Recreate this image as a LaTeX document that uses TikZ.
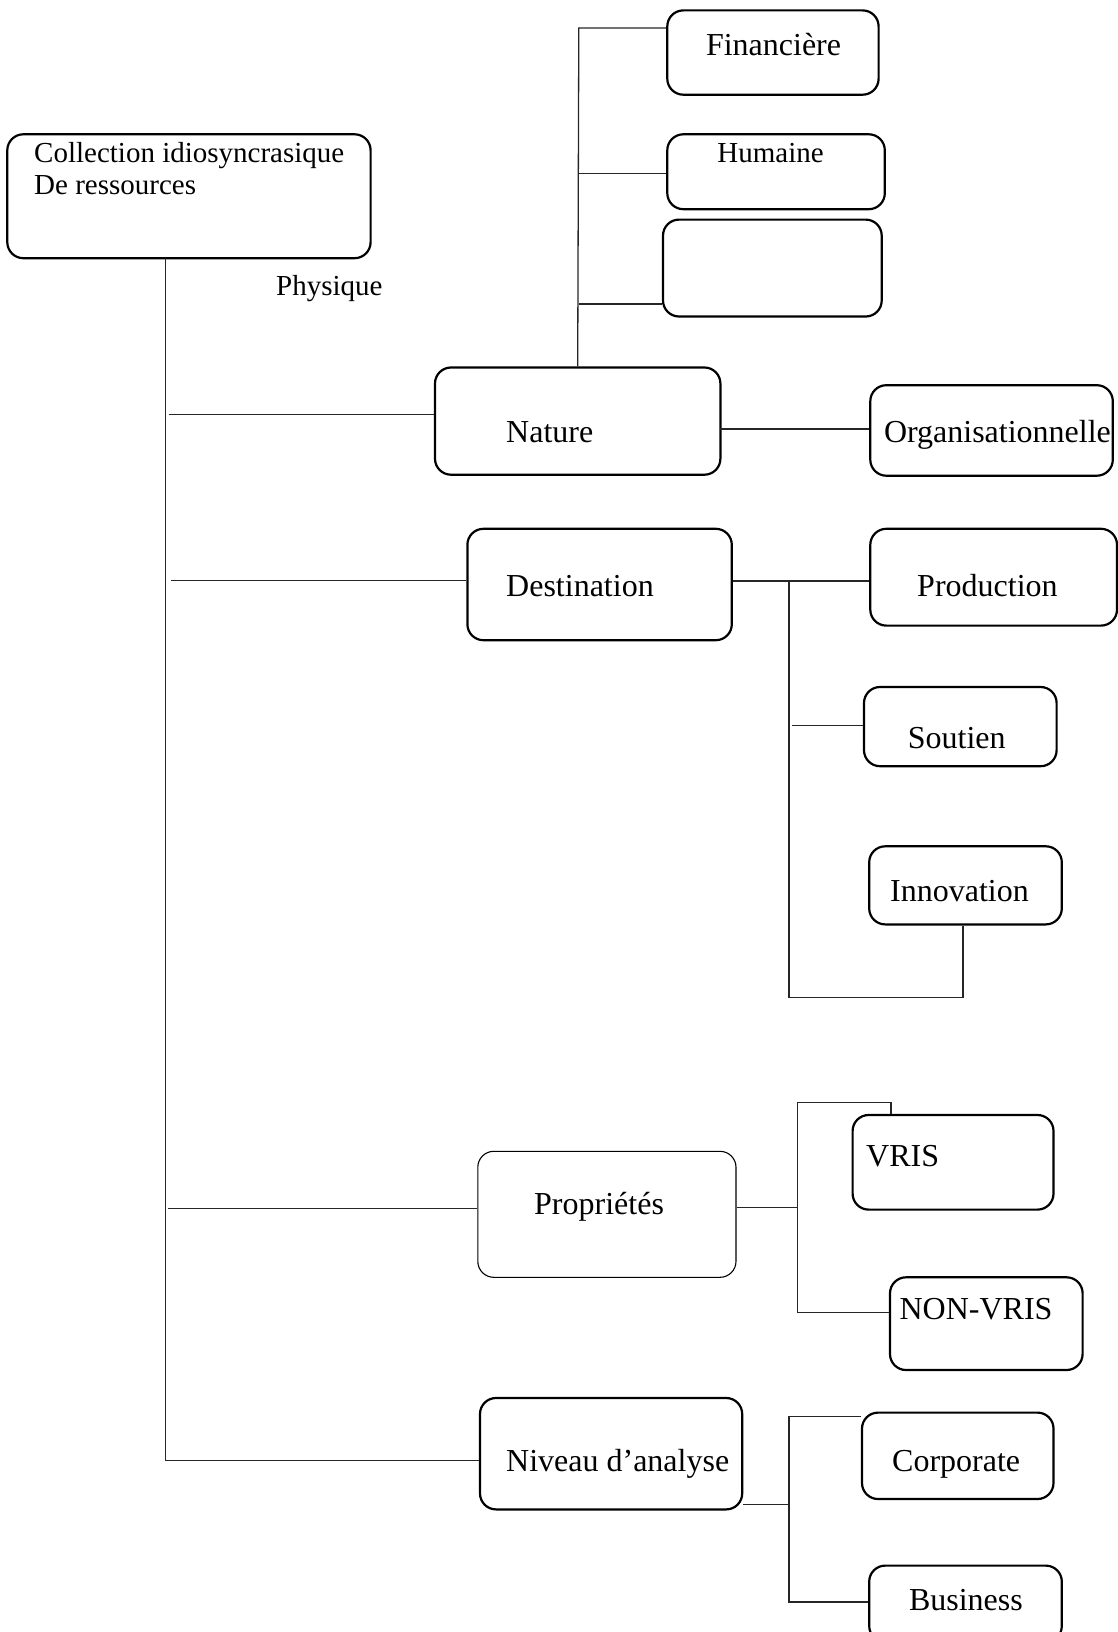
\documentclass[tikz,border=0pt]{standalone}
\usepackage{fontspec}
\setmainfont{Liberation Serif}
% box from corner (x1,y1) to corner (x2,y2), named #6
\newcommand\mkbox[6][box]{\node[#1, minimum width={#4-#2}, minimum height={#5-#3}] (#6) at ({(#2+#4)/2},{(#3+#5)/2}) {};}
\begin{document}
\begin{tikzpicture}[x=1pt,y=-1pt,
  box/.style={draw, line width=2.2pt, rounded corners=16pt, inner sep=0pt, rectangle},
  thinbox/.style={box, line width=1.1pt},
  lbl/.style={anchor=base west, inner sep=0pt, font=\fontsize{32}{38}\selectfont},
  slbl/.style={anchor=base west, inner sep=0pt, font=\fontsize{29}{31}\selectfont},
  link/.style={line width=1.3pt, draw=black!85}]
\useasboundingbox (0,0) rectangle (1118,1632);

% boxes
\mkbox{7.3}{134.3}{370.6}{258.2}{coll}
\mkbox{667.3}{10.4}{878.6}{94.7}{fin}
\mkbox{667.3}{134.3}{884.8}{209.2}{hum}
\mkbox{663}{219.6}{881.7}{316.5}{emp}
\mkbox{435}{367.5}{720.4}{474.7}{nat}
\mkbox{870.3}{385.2}{1112.8}{475.7}{org}
\mkbox{467.4}{528.8}{731.8}{640.2}{dst}
\mkbox{870.3}{528.8}{1117}{625.6}{prd}
\mkbox{864}{687}{1056.6}{766.2}{sou}
\mkbox{869.2}{846.3}{1061.8}{924.4}{inn}
\mkbox[thinbox]{477.8}{1151.3}{736}{1277.3}{pro}
\mkbox{852.6}{1115}{1053.5}{1209.6}{vris}
\mkbox{890}{1277.3}{1082.6}{1370}{nvr}
\mkbox{480}{1398}{742.2}{1509.4}{niv}
\mkbox{862}{1412.6}{1053.5}{1499}{cor}
\mkbox{869.2}{1565.6}{1061.8}{1642}{bus}

% labels
\node[slbl] (collA) at (34,162.7) {Collection idiosyncrasique};
\node[slbl] (collB) at (34,194) {De ressources};
\node[slbl] (phy) at (276,295) {Physique};
\node[lbl] (finT) at (705.8,55.5) {Financière};
\node[slbl] (humT) at (717.2,162.3) {Humaine};
\node[lbl] (natT) at (506,442.7) {Nature};
\node[lbl] (orgT) at (883.8,442.7) {Organisationnelle};
\node[lbl] (dstT) at (506,596) {Destination};
\node[lbl] (prdT) at (917,596) {Production};
\node[lbl] (souT) at (907.7,748) {Soutien};
\node[lbl] (innT) at (890,901.7) {Innovation};
\node[lbl] (proT) at (534,1214) {Propriétés};
\node[lbl] (vrisT) at (866,1166) {VRIS};
\node[lbl] (nvrT) at (899.4,1319) {NON-VRIS};
\node[lbl] (nivT) at (506,1471.7) {Niveau d’analyse};
\node[lbl] (corT) at (892,1471.7) {Corporate};
\node[lbl] (busT) at (908.8,1610) {Business};

% junction points of the connector lines
\coordinate (trTop) at (165.5,258.2);
\coordinate (trBot) at (165.5,1460.5);
\coordinate (trNat) at (168.6,414.3);
\coordinate (trDst) at (170.7,580.5);
\coordinate (trPro) at (167.6,1208.6);
\coordinate (nbTop) at (578.8,28.1);
\coordinate (nbHum) at (578.8,173.8);
\coordinate (nbEmp) at (578.8,304);
\coordinate (natOrg) at (720.4,428.9);
\coordinate (dsTop) at (789,580.9);
\coordinate (dsSou) at (792.2,725.5);
\coordinate (dsBot) at (789,997.3);
\coordinate (dsInn) at (963,997.3);
\coordinate (prMid) at (797.4,1207.5);
\coordinate (prTop) at (797.4,1102.4);
\coordinate (prHook) at (891,1102.4);
\coordinate (prBot) at (797.4,1312.7);
\coordinate (nvMid) at (789,1504.2);
\coordinate (nvTop) at (789,1416.5);
\coordinate (nvBot) at (789,1602);

% main trunk and its branches
\draw[link] (trTop) -- (trBot) -- (niv.west |- trBot);
\draw[link] (trNat) -- (nat.west |- trNat);
\draw[link] (trDst) -- (dst.west |- trDst);
\draw[link] (trPro) -- (pro.west |- trPro);

% Nature
\draw[link] (nat.north) -- (nbTop) -- (fin.west |- nbTop);
\draw[link] (nbHum) -- (hum.west |- nbHum);
\draw[link] (nbEmp) -- (emp.west |- nbEmp);
\draw[link] (natOrg) -- (org.west |- natOrg);

% Destination
\draw[link] (dst.east |- dsTop) -- (prd.west |- dsTop);
\draw[link] (dsTop) -- (dsBot) -- (dsInn) -- (inn.south -| dsInn);
\draw[link] (dsSou) -- (sou.west |- dsSou);

% Propriétés
\draw[link] (pro.east |- prMid) -- (prMid);
\draw[link] (vris.north -| prHook) -- (prHook) -- (prTop) -- (prBot) -- (nvr.west |- prBot);

% Niveau d'analyse
\draw[link] (niv.east |- nvMid) -- (nvMid);
\draw[link] (cor.west |- nvTop) -- (nvTop) -- (nvBot) -- (bus.west |- nvBot);
\end{tikzpicture}
\end{document}
